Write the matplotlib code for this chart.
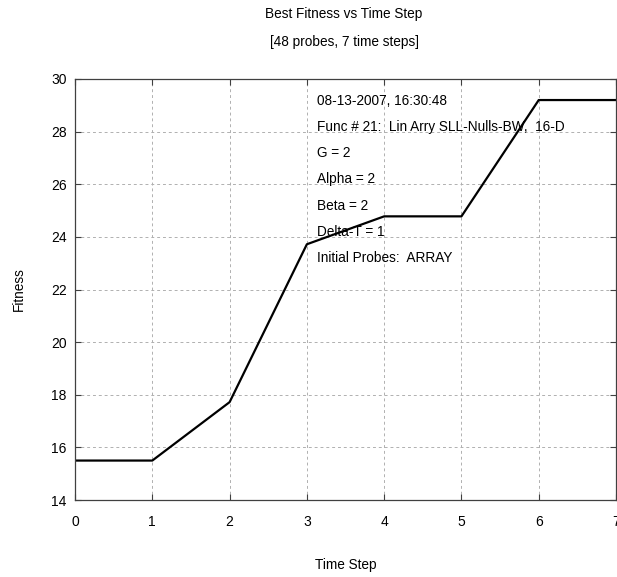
import matplotlib
matplotlib.use("Agg")
import matplotlib.pyplot as plt

time_steps = [0, 1, 2, 3, 4, 5, 6, 7]
fitness = [15.5, 15.5, 17.72, 23.72, 24.78, 24.78, 29.2, 29.2]
x_ticks = [0, 1, 2, 3, 4, 5, 6, 7]
y_ticks = [14, 16, 18, 20, 22, 24, 26, 28, 30]
info_lines = ["08-13-2007, 16:30:48",
              "Func # 21:  Lin Arry SLL-Nulls-BW,  16-D",
              "G = 2",
              "Alpha = 2",
              "Beta = 2",
              "Delta-T = 1",
              "Initial Probes:  ARRAY"]

plt.rcParams['font.family'] = ['Liberation Sans', 'DejaVu Sans']
fig = plt.figure(figsize=(6.17, 5.77), dpi=100)
ax = fig.add_axes([0.1216, 0.1334, 0.8768, 0.7297])
ax.plot(time_steps, fitness, color='black', lw=1.6)
ax.set_xlim(0, 7)
ax.set_ylim(14, 30)
ax.set_xticks(x_ticks)
ax.set_yticks(y_ticks)
ax.grid(True, color='#b0b0b0', linestyle=(0, (3, 3)), lw=0.7)
ax.tick_params(direction='in', length=4, labelsize=10, color='#404040',
               top=True, right=True, pad=11)
ax.tick_params(axis='y', pad=6)
for s in ax.spines.values():
    s.set_color('#404040')
    s.set_linewidth(0.9)
for i, line in enumerate(info_lines):
    ax.text(3.13, 29.17 - i * 0.995, line, fontsize=9.8, va='center', ha='left')
ax.set_xlabel("Time Step", fontsize=9.8, labelpad=21)
ax.set_ylabel("Fitness", fontsize=9.8, labelpad=18)
fig.text(344 / 617, 1 - 14 / 577, "Best Fitness vs Time Step", fontsize=9.8, ha='center', va='center')
fig.text(344 / 617, 1 - 42 / 577, "[48 probes, 7 time steps]", fontsize=9.8, ha='center', va='center')
fig.savefig("out.png", dpi=100)
